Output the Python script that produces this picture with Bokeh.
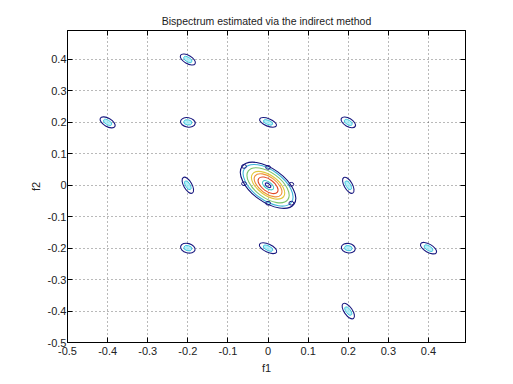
from bokeh.plotting import figure
from bokeh.models import FixedTicker, LinearAxis, Range1d, ColumnDataSource
from bokeh.embed import file_html
from bokeh.resources import INLINE
import math

# axis ticks
ticks = [-0.5, -0.4, -0.3, -0.2, -0.1, 0.0, 0.1, 0.2, 0.3, 0.4]
tick_labels = ["-0.5", "-0.4", "-0.3", "-0.2", "-0.1", "0", "0.1", "0.2", "0.3", "0.4"]

# satellite bispectral peaks (f1, f2), contour extent in f1 / f2 units, tilt (deg)
peak_f1 = [-0.2, -0.4, -0.2, 0.0, 0.2, -0.2, 0.2, -0.2, 0.0, 0.2, 0.4, 0.2]
peak_f2 = [0.4, 0.2, 0.2, 0.2, 0.2, 0.0, 0.0, -0.2, -0.2, -0.2, -0.2, -0.4]
peak_w = [0.042, 0.042, 0.037, 0.045, 0.040, 0.045, 0.045, 0.037, 0.047, 0.035, 0.045, 0.045]
peak_h = [0.026, 0.026, 0.030, 0.024, 0.026, 0.026, 0.026, 0.030, 0.026, 0.030, 0.026, 0.026]
peak_tilt = [-30, -30, -10, -22, -30, -60, -60, -15, -25, -10, -30, -55]

# central peak: nested contour levels (relative size) and colours
center_levels = [1.0, 0.9, 0.76, 0.6, 0.5, 0.36, 0.2, 0.1]
center_colors = ["#12127a", "#3cb4d8", "#7cc46c", "#e0c83c", "#f09038", "#e04a28", "#40c8c8", "#1a1a9a"]
center_w = 0.16
center_h = 0.105
center_tilt = -36

# small side lobes around the central peak
lobe_f1 = [-0.06, 0.0, -0.06, 0.058, 0.0, 0.058]
lobe_f2 = [0.06, 0.057, 0.005, 0.003, -0.057, -0.057]

p = figure(width=505, height=376, output_backend="svg", toolbar_location=None,
           x_range=Range1d(-0.5, 0.4922), y_range=Range1d(-0.5, 0.4922),
           min_border_left=67, min_border_right=40, min_border_top=30, min_border_bottom=34,
           title="Bispectrum estimated via the indirect method")

p.title.align = "center"
p.title.text_font = "Liberation Sans"
p.title.text_font_size = "10.5px"
p.title.text_font_style = "normal"
p.title.text_color = "#222222"
p.title.offset = 0
p.title.standoff = 7

p.outline_line_color = "#000000"
p.outline_line_width = 1
p.background_fill_color = "white"
p.border_fill_color = "white"

for ax in (p.xaxis[0], p.yaxis[0]):
    ax.ticker = FixedTicker(ticks=ticks)
    ax.major_label_overrides = {t: l for t, l in zip(ticks, tick_labels)}
    ax.major_tick_in = 5
    ax.major_tick_out = 0
    ax.minor_tick_line_color = None
    ax.axis_line_color = "#000000"
    ax.major_tick_line_color = "#000000"
    ax.major_label_text_font = "Liberation Sans"
    ax.major_label_text_font_size = "11px"
    ax.major_label_text_color = "#222222"
    ax.axis_label_text_font = "Liberation Sans"
    ax.axis_label_text_font_size = "11px"
    ax.axis_label_text_font_style = "normal"
    ax.axis_label_text_color = "#222222"
    ax.major_label_standoff = 4
    ax.axis_label_standoff = 4

p.yaxis.major_label_standoff = 1
p.yaxis.axis_label_standoff = 3

p.xaxis.axis_label = "f1"
p.yaxis.axis_label = "f2"

for loc in ("above", "right"):
    ax = LinearAxis(ticker=FixedTicker(ticks=ticks), major_tick_in=5, major_tick_out=0,
                    minor_tick_line_color=None, major_label_text_font_size="0px",
                    major_label_text_color=None, axis_line_color="#000000")
    p.add_layout(ax, loc)

p.grid.ticker = FixedTicker(ticks=ticks)
p.grid.grid_line_color = "#000000"
p.grid.grid_line_alpha = 0.55
p.grid.grid_line_dash = "1 3"

# satellite peaks: outer and inner contours
sat = ColumnDataSource(dict(
    x=peak_f1, y=peak_f2, w=peak_w, h=peak_h,
    a=[math.radians(t) for t in peak_tilt],
    wi=[w * 0.55 for w in peak_w], hi=[h * 0.55 for h in peak_h],
))
p.ellipse(x="x", y="y", width="wi", height="hi", angle="a", source=sat,
          fill_color="#a8ecf8", fill_alpha=0.8, line_color="#40c8e0", line_width=1)
p.ellipse(x="x", y="y", width="w", height="h", angle="a", source=sat,
          fill_color=None, line_color="#1a1a80", line_width=1.1)

# central peak
cen = ColumnDataSource(dict(
    x=[0.0] * len(center_levels), y=[0.0] * len(center_levels),
    w=[center_w * s for s in center_levels], h=[center_h * s for s in center_levels],
    a=[math.radians(center_tilt)] * len(center_levels), c=center_colors,
))
p.ellipse(x="x", y="y", width="w", height="h", angle="a", source=cen,
          fill_color=None, line_color="c", line_width=1.1)

# side lobes
p.ellipse(x=lobe_f1, y=lobe_f2, width=0.012, height=0.012, fill_color=None,
          line_color="#1a1a80", line_width=1)

open("out.html", "w").write(file_html(p, INLINE))
